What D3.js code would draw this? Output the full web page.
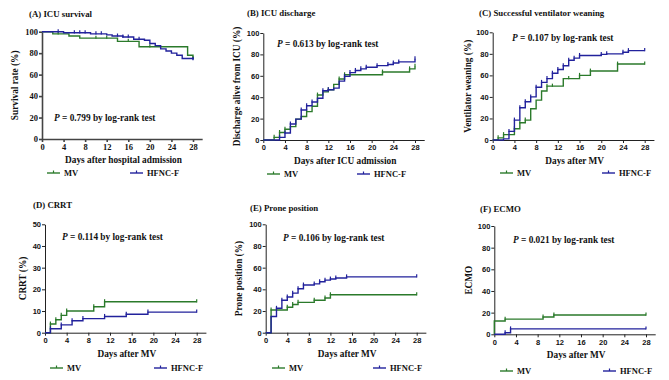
<html>
<script src="https://d3js.org/d3.v7.min.js"></script>
<style>
body { margin: 0; background: #fff; }
text { font-family: "Liberation Serif", "Times New Roman", serif; font-weight: bold; fill: #111; }
.sans text { font-family: "Liberation Sans", Arial, sans-serif; }
</style>
<body>
<svg width="669" height="380"></svg>
<script>
// tick labels
var xTicks = [0, 4, 8, 12, 16, 20, 24, 28];
var yTicks100 = [0, 20, 40, 60, 80, 100];
var yTicks50 = [0, 10, 20, 30, 40, 50];
var groups = ["MV", "HFNC-F"];

// (A) ICU survival, [day, %]
var survMV = [[0,100],[2,98],[5,96],[7,94],[14,91],[18,86],[27,78],[28,75]];
var survHF = [[0,100],[4,99],[9,98],[12,97],[13,96],[15,95],[17,93],[19,92],[20,89],[21,87],[22,84],[23,82],[24,80],[25,78],[26,75],[28,74]];
var survMVc = [3, 10, 12, 16, 20, 28];
var survHFc = [3, 6, 7, 8, 10, 11, 14, 15, 16, 18, 28];

// (B) ICU discharge
var discMV = [[0,0],[2,2.5],[3,7],[4,10],[5,12.5],[6,19.5],[7,22],[8,26.5],[9,31.5],[10,42],[11,45],[12,47],[13,52],[14,57],[15,61],[22,63.5],[27,66.5],[28,69]];
var discHF = [[0,0],[3,2.5],[4,6.5],[5,15],[6,19.5],[7,28],[8,32],[9,35.5],[10,39],[11,46],[12,47],[13,48.5],[14,55],[15,59.5],[16,63],[17,65],[18,66.5],[19,68],[21,69.5],[23,70.5],[24,72],[25,73],[28,76]];
var discMVc = [2, 3, 4, 8, 10, 12, 14, 15, 22, 27, 28];
var discHFc = [3, 4, 5, 7, 8, 9, 11, 12, 15, 16, 17, 18, 19, 21, 23, 24, 25, 28];

// (C) Successful ventilator weaning
var weanMV = [[0,0],[1,2],[2,5],[4,10.5],[5,16],[6,18.5],[7,29],[8,37],[9,45.5],[10,50],[13,57],[16,60],[18,64],[23,70.5],[28,70.5]];
var weanHF = [[0,0],[2,1],[3,8],[4,18.5],[5,30],[6,35.5],[7,40],[8,49],[9,53.5],[10,57],[11,62],[12,65.5],[13,69],[14,74],[15,76],[16,78.5],[20,79.5],[21,80],[24,81.5],[25,83],[28,83]];
var weanMVc = [1, 2, 4, 5, 6, 10, 11, 14, 16, 18, 23, 28];
var weanHFc = [3, 4, 5, 6, 7, 8, 9, 10, 11, 12, 13, 14, 15, 16, 20, 21, 24, 25, 28];

// (D) CRRT
var crrtMV = [[0,0],[1,4],[2,6],[3,8],[4,10],[9,12],[11,14.3],[28,14.3]];
var crrtHF = [[0,0],[1,1.8],[3,3.6],[5,5.5],[7,6.5],[11,7.5],[15,8.5],[19,9.5],[28,9.5]];
var crrtMVc = [1, 2, 3, 4, 9, 11, 28];
var crrtHFc = [1, 3, 5, 7, 11, 15, 19, 28];

// (E) Prone position
var proneMV = [[0,0],[1,21],[4,23.5],[5,26],[6,28],[9,30],[11,32],[12,35],[28,35]];
var proneHF = [[0,0],[1,15],[2,22.5],[3,30],[4,33],[5,36.5],[6,40.5],[7,44],[9,45],[10,47],[11,48.5],[12,49.5],[13,50.5],[15,51.5],[28,51.5]];
var proneMVc = [1, 4, 5, 6, 9, 11, 12, 28];
var proneHFc = [2, 3, 4, 5, 6, 7, 9, 10, 11, 12, 13, 15, 28];

// (F) ECMO
var ecmoMV = [[0,0],[0,12.3],[2,14],[9,16],[11,17.8],[28,17.8]];
var ecmoHF = [[0,0],[2,1.5],[3,5],[28,5]];
var ecmoMVc = [2, 9, 11, 28];
var ecmoHFc = [2, 3, 28];

var colMV = "#2b7a2b", colHF = "#22229c";

var panels = [
  {title:"(A) ICU survival", ylab:"Survival rate (%)", xlab:"Days after hospital admission", p:"0.799",
   mv:survMV, hf:survHF, mvc:survMVc, hfc:survHFc, yt:yticks(100),
   x0:42, x28:193, yTop:31.7, yBot:139, tx:29, ty:17, px:54, py:121, yl:15, lx:47, lx2:130, ly:173, sans:false},
  {title:"(B) ICU discharge", ylab:"Discharge alive from ICU (%)", xlab:"Days after ICU admission", p:"0.613",
   mv:discMV, hf:discHF, mvc:discMVc, hfc:discHFc, yt:yticks(100),
   x0:263.3, x28:415, yTop:33, yBot:140, tx:247, ty:16, px:277, py:47, yl:237, lx:267, lx2:357, ly:174, sans:true},
  {title:"(C)  Successful ventilator weaning", ylab:"Ventilator weaning (%)", xlab:"Days after MV", p:"0.107",
   mv:weanMV, hf:weanHF, mvc:weanMVc, hfc:weanHFc, yt:yticks(100),
   x0:492.7, x28:644.7, yTop:32.3, yBot:140, tx:479, ty:16, px:512, py:41, yl:468, lx:500, lx2:602, ly:173, sans:true},
  {title:"(D)  CRRT", ylab:"CRRT (%)", xlab:"Days after MV", p:"0.114",
   mv:crrtMV, hf:crrtHF, mvc:crrtMVc, hfc:crrtHFc, yt:yticks(50),
   x0:45, x28:196.7, yTop:224.3, yBot:332.7, tx:33, ty:208, px:62, py:240, yl:23, lx:50, lx2:154, ly:368, sans:true},
  {title:"(E) Prone position", ylab:"Prone position (%)", xlab:"Days after MV", p:"0.106",
   mv:proneMV, hf:proneHF, mvc:proneMVc, hfc:proneHFc, yt:yticks(100),
   x0:265.7, x28:416.7, yTop:224.3, yBot:332.7, tx:250, ty:211, px:283, py:241, yl:239, lx:272, lx2:373, ly:368, sans:true},
  {title:"(F)  ECMO", ylab:"ECMO", xlab:"Days after MV", p:"0.021",
   mv:ecmoMV, hf:ecmoHF, mvc:ecmoMVc, hfc:ecmoHFc, yt:yticks(100),
   x0:494.3, x28:646, yTop:226, yBot:334.3, tx:480, ty:212, px:513, py:243, yl:469, lx:500, lx2:603, ly:371, sans:true}
];

function yticks(m) { return m == 50 ? yTicks50 : yTicks100; }

var svg = d3.select("svg");

function stepAt(data, d) {
  var v = data[0][1];
  data.forEach(function(p) { if (p[0] <= d) v = p[1]; });
  return v;
}

panels.forEach(function(pn) {
  var ymax = pn.yt[pn.yt.length - 1];
  var xEnd = 29.7;
  var x = d3.scaleLinear().domain([0, xEnd]).range([pn.x0, pn.x0 + (pn.x28 - pn.x0) * xEnd / 28]);
  var y = d3.scaleLinear().domain([0, ymax]).range([pn.yBot, pn.yTop]);
  var g = svg.append("g");

  var ax = g.append("g").attr("class", pn.sans ? "sans" : "");
  ax.append("g").attr("transform", "translate(0," + pn.yBot + ")")
    .call(d3.axisBottom(x).tickValues(xTicks).tickSize(3).tickSizeOuter(0).tickPadding(2));
  ax.append("g").attr("transform", "translate(" + pn.x0 + ",0)")
    .call(d3.axisLeft(y).tickValues(pn.yt).tickSize(3).tickSizeOuter(0).tickPadding(1));
  ax.selectAll(".tick text").attr("font-size", pn.sans ? 7.5 : 8.5).attr("font-family", null);
  ax.selectAll(".domain, .tick line").attr("stroke", pn.sans ? "#222" : "#444").attr("stroke-width", pn.sans ? 1 : 1.6);

  var line = d3.line().curve(d3.curveStepAfter).x(function(d) { return x(d[0]); }).y(function(d) { return y(d[1]); });
  [[pn.mv, pn.mvc, colMV], [pn.hf, pn.hfc, colHF]].forEach(function(s) {
    g.append("path").datum(s[0]).attr("d", line)
      .attr("fill", "none").attr("stroke", s[2]).attr("stroke-width", 1.4);
    g.selectAll(null).data(s[1]).enter().append("line")
      .attr("x1", function(d) { return x(d); }).attr("x2", function(d) { return x(d); })
      .attr("y1", function(d) { return y(stepAt(s[0], d)) + 0.7; })
      .attr("y2", function(d) { return y(stepAt(s[0], d)) - 2.5; })
      .attr("stroke", s[2]).attr("stroke-width", 1.2);
  });

  g.append("text").attr("x", pn.tx).attr("y", pn.ty).attr("font-size", 8.8).text(pn.title);
  var pt = g.append("text").attr("x", pn.px).attr("y", pn.py).attr("font-size", 9.3);
  pt.append("tspan").attr("font-style", "italic").text("P");
  pt.append("tspan").text(" = " + pn.p + " by log-rank test");

  g.append("text").attr("x", (pn.x0 + pn.x28) / 2 + 6).attr("y", pn.yBot + 24)
    .attr("text-anchor", "middle").attr("font-size", 9.3).text(pn.xlab);
  g.append("text").attr("transform", "translate(" + pn.yl + "," + (pn.yTop + pn.yBot) / 2 + ") rotate(-90)")
    .attr("text-anchor", "middle").attr("dy", "0.35em").attr("font-size", 9.3).text(pn.ylab);

  [[pn.lx, colMV, groups[0]], [pn.lx2, colHF, groups[1]]].forEach(function(l) {
    g.append("line").attr("x1", l[0]).attr("x2", l[0] + 13).attr("y1", pn.ly).attr("y2", pn.ly)
      .attr("stroke", l[1]).attr("stroke-width", 1.4);
    g.append("line").attr("x1", l[0] + 6.5).attr("x2", l[0] + 6.5).attr("y1", pn.ly).attr("y2", pn.ly - 2.5)
      .attr("stroke", l[1]).attr("stroke-width", 1.2);
    g.append("text").attr("x", l[0] + 17).attr("y", pn.ly).attr("dy", "0.35em")
      .attr("font-size", 8.5).text(l[2]);
  });
});
</script>
</body>
</html>
